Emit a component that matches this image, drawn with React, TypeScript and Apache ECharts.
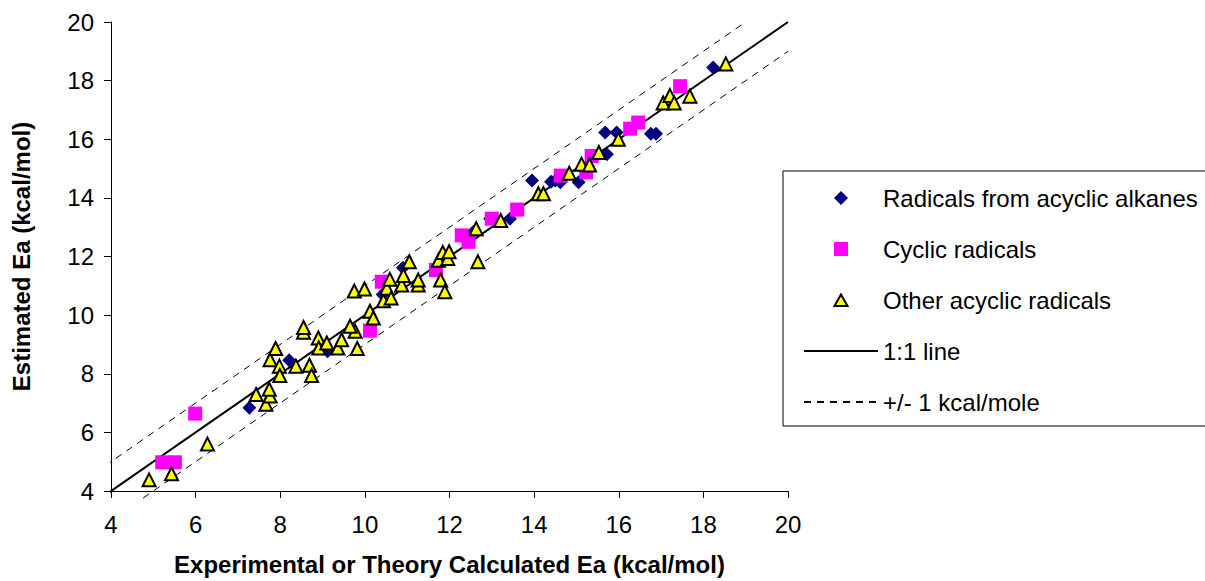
import React, { useEffect, useRef } from "react";
import * as echarts from "echarts";

// Radicals from acyclic alkanes: [experimental, estimated]
const alkaneRadicals: number[][] = [
  [7.27, 6.84], [8.21, 8.46], [9.12, 8.77], [10.42, 10.7], [10.9, 11.62],
  [12.56, 12.84], [12.96, 13.29], [13.43, 13.29], [13.95, 14.59], [14.4, 14.55],
  [14.5, 14.59], [14.62, 14.53], [15.05, 14.53], [15.72, 15.49], [15.68, 16.23],
  [15.95, 16.23], [16.76, 16.19], [16.88, 16.19], [18.23, 18.45],
];

// Cyclic radicals
const cyclicRadicals: number[][] = [
  [5.21, 4.98], [5.51, 4.98], [5.99, 6.64], [10.12, 9.47], [10.4, 11.14],
  [11.68, 11.54], [12.29, 12.72], [12.45, 12.5], [13.0, 13.29], [13.6, 13.6],
  [14.63, 14.76], [15.23, 14.87], [15.36, 15.43], [16.27, 16.36], [16.46, 16.57],
  [17.45, 17.81],
];

// Other acyclic radicals
const otherRadicals: number[][] = [
  [4.9, 4.38], [5.43, 4.59], [6.28, 5.6], [7.43, 7.29], [7.66, 6.96],
  [7.76, 7.24], [7.74, 7.47], [7.76, 8.48], [7.89, 8.86], [7.98, 8.26],
  [7.99, 7.94], [8.37, 8.26], [8.69, 8.29], [8.74, 7.94], [8.55, 9.42],
  [8.55, 9.58], [8.9, 9.22], [8.91, 8.88], [9.1, 9.05], [9.36, 8.88],
  [9.45, 9.16], [9.77, 9.45], [9.65, 9.62], [9.82, 8.86], [9.75, 10.82],
  [9.99, 10.89], [10.12, 10.13], [10.2, 9.9], [10.44, 10.49], [10.52, 10.92],
  [10.59, 11.22], [10.62, 10.58], [10.87, 11.03], [10.91, 11.35], [11.05, 11.82],
  [11.26, 11.03], [11.26, 11.2], [11.74, 11.87], [11.79, 11.2], [11.84, 12.14],
  [11.89, 10.8], [11.96, 11.93], [11.99, 12.16], [12.63, 12.95], [12.67, 11.82],
  [13.21, 13.23], [14.1, 14.14], [14.22, 14.14], [14.83, 14.84], [15.12, 15.15],
  [15.31, 15.12], [15.53, 15.55], [15.99, 16.0], [17.05, 17.24], [17.21, 17.49],
  [17.31, 17.24], [17.68, 17.47], [18.53, 18.57],
];

// Reference lines
const oneToOneLine: number[][] = [[3.86, 3.86], [20, 20]];
const plusOneLine: number[][] = [[3.86, 4.86], [19, 20]];
const minusOneLine: number[][] = [[4.76, 3.76], [20, 19]];

const axisTicks = { min: 4, max: 20, interval: 2 };

const FONT = "'Liberation Sans', Arial, sans-serif";

// Legend icons: a 74x14 box (invisible corner moves) with the marker centred in it
const ICON_DIAMOND = "path://M0,0 M74,14 M37,0 L44,7 L37,14 L30,7 Z";
const ICON_SQUARE = "path://M0,0 M74,14 M30,0 L44,0 L44,14 L30,14 Z";
const ICON_TRIANGLE = "path://M0,0 M74,14 M37,1.5 L43.5,13 L30.5,13 Z";

export default function App() {
  const ref = useRef<HTMLDivElement>(null);

  useEffect(() => {
    if (!ref.current) return;
    const chart = echarts.init(ref.current, undefined, { renderer: "svg" });
    const axisCommon = {
      type: "value" as const,
      min: axisTicks.min,
      max: axisTicks.max,
      interval: axisTicks.interval,
      splitLine: { show: false },
      axisLine: { show: true, lineStyle: { color: "#000", width: 1 } },
      axisTick: { show: true, inside: false, length: 7, lineStyle: { color: "#000" } },
      nameLocation: "middle" as const,
      nameTextStyle: { fontFamily: FONT, fontSize: 24, fontWeight: "bold" as const, color: "#000" },
    };
    const hiddenSymbol = { color: "rgba(0,0,0,0)", borderColor: "rgba(0,0,0,0)", borderWidth: 0 };
    chart.setOption({
      animation: false,
      backgroundColor: "#fff",
      textStyle: { fontFamily: FONT },
      grid: { left: 111, right: 417, top: 22, bottom: 87, containLabel: false },
      xAxis: {
        ...axisCommon,
        name: "Experimental or Theory Calculated Ea (kcal/mol)",
        nameGap: 61,
        axisLabel: { fontFamily: FONT, fontSize: 24, color: "#000", margin: 21 },
      },
      yAxis: {
        ...axisCommon,
        name: "Estimated Ea (kcal/mol)",
        nameGap: 78,
        axisLabel: { fontFamily: FONT, fontSize: 24, color: "#000", margin: 17 },
      },
      legend: {
        orient: "vertical",
        left: 783,
        top: 171,
        padding: [15, 8, 12, 20],
        itemGap: 27,
        itemWidth: 74,
        itemHeight: 14,
        borderColor: "#000",
        borderWidth: 1,
        backgroundColor: "#fff",
        selectedMode: false,
        textStyle: { fontFamily: FONT, fontSize: 24, color: "#000" },
        data: [
          { name: "Radicals from acyclic alkanes", icon: ICON_DIAMOND },
          { name: "Cyclic radicals", icon: ICON_SQUARE },
          { name: "Other acyclic radicals", icon: ICON_TRIANGLE },
          { name: "1:1 line", itemStyle: hiddenSymbol },
          { name: "+/- 1 kcal/mole", itemStyle: hiddenSymbol },
        ],
      },
      series: [
        {
          name: "1:1 line",
          type: "line",
          data: oneToOneLine,
          symbol: "none",
          clip: false,
          z: 1,
          lineStyle: { color: "#000", width: 2 },
        },
        {
          name: "+/- 1 kcal/mole",
          type: "line",
          data: plusOneLine,
          symbol: "none",
          clip: false,
          z: 1,
          lineStyle: { color: "#000", width: 1, type: [7, 6] },
        },
        {
          name: "+/- 1 kcal/mole",
          type: "line",
          data: minusOneLine,
          symbol: "none",
          clip: false,
          z: 1,
          lineStyle: { color: "#000", width: 1, type: [7, 6] },
        },
        {
          name: "Radicals from acyclic alkanes",
          type: "scatter",
          data: alkaneRadicals,
          symbol: "diamond",
          symbolSize: 14,
          z: 2,
          itemStyle: { color: "#000080", opacity: 1 },
        },
        {
          name: "Cyclic radicals",
          type: "scatter",
          data: cyclicRadicals,
          symbol: "rect",
          symbolSize: 14,
          z: 3,
          itemStyle: { color: "#FF00FF", opacity: 1 },
        },
        {
          name: "Other acyclic radicals",
          type: "scatter",
          data: otherRadicals,
          symbol: "triangle",
          symbolSize: 13,
          z: 4,
          itemStyle: { color: "#FFFF00", borderColor: "#000", borderWidth: 2, opacity: 1 },
        },
      ],
    });
    return () => chart.dispose();
  }, []);

  return (
    <div
      ref={ref}
      style={{ position: "absolute", left: 0, top: 0, width: 1205, height: 581 }}
    />
  );
}
